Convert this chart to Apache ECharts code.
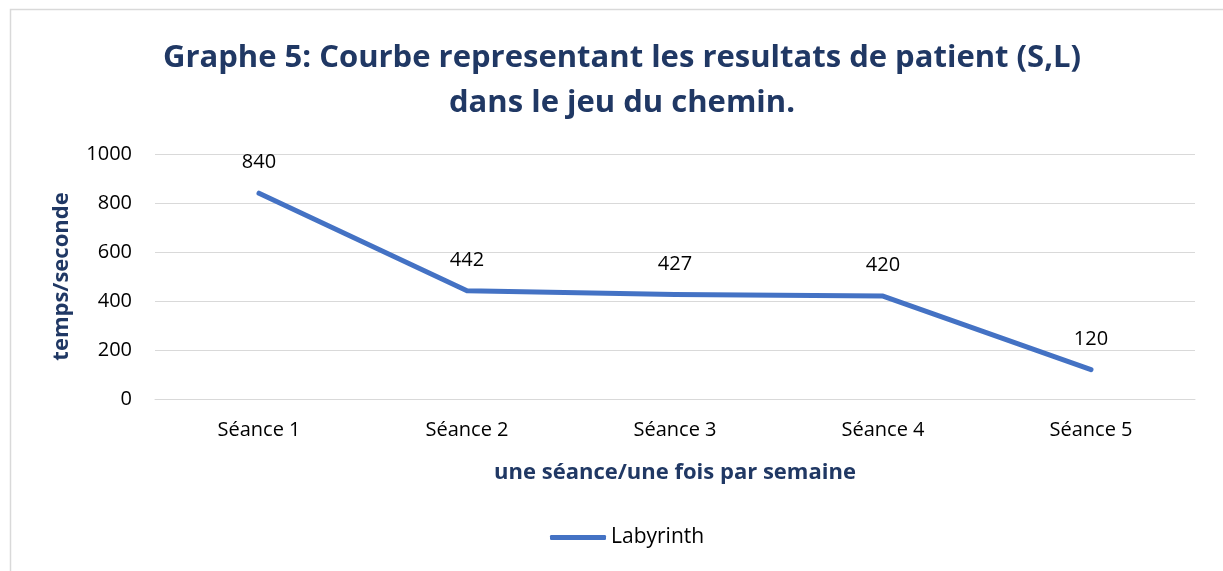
<!DOCTYPE html>
<html>
<head>
<meta charset="utf-8">
<script src="https://cdn.jsdelivr.net/npm/echarts@6/dist/echarts.min.js"></script>
<style>
  html, body { margin: 0; padding: 0; background: #fff; }
  #chart { width: 1223px; height: 571px; }
</style>
</head>
<body>
<div id="chart"></div>
<script>
const categories = ['Séance 1', 'Séance 2', 'Séance 3', 'Séance 4', 'Séance 5'];
const labyrinth = [840, 442, 427, 420, 120];
const yTicks = [0, 200, 400, 600, 800, 1000];

const navy = '#203864';
const blue = '#4472C4';
const font = 'Open Sans';

const chart = echarts.init(document.getElementById('chart'));

chart.setOption({
  backgroundColor: '#fff',
  animation: false,
  textStyle: { fontFamily: font },
  graphic: [{
    type: 'rect',
    shape: { x: 10.5, y: 9.5, width: 1240, height: 600 },
    style: { fill: 'none', stroke: '#d9d9d9', lineWidth: 1.5 },
    silent: true
  }],
  title: {
    text: 'Graphe 5: Courbe representant les resultats de patient (S,L)\ndans le jeu du chemin.',
    left: 617,
    top: 31,
    textAlign: 'center',
    textStyle: {
      fontFamily: font,
      fontSize: 31,
      fontWeight: 'bold',
      color: navy,
      lineHeight: 45
    }
  },
  grid: { left: 155, right: 28, top: 154, bottom: 172 },
  xAxis: {
    type: 'category',
    data: categories,
    boundaryGap: true,
    name: 'une séance/une fois par semaine',
    nameLocation: 'middle',
    nameGap: 63,
    nameTextStyle: { fontFamily: font, fontSize: 22, fontWeight: 'bold', color: navy },
    axisLine: { lineStyle: { color: '#d9d9d9', width: 1 } },
    axisTick: { show: false },
    axisLabel: { color: '#000', fontSize: 20, margin: 21 }
  },
  yAxis: {
    type: 'value',
    min: yTicks[0],
    max: yTicks[yTicks.length - 1],
    interval: 200,
    name: 'temps/seconde',
    nameLocation: 'middle',
    nameGap: 82,
    nameTextStyle: { fontFamily: font, fontSize: 22, fontWeight: 'bold', color: navy },
    axisLine: { show: false },
    axisTick: { show: false },
    axisLabel: { color: '#000', fontSize: 20, margin: 23, formatter: (v) => String(v) },
    splitLine: { lineStyle: { color: '#d9d9d9', width: 1 } }
  },
  legend: {
    data: ['Labyrinth'],
    bottom: 18,
    left: 545,
    itemWidth: 56,
    itemHeight: 5,
    itemGap: 4,
    icon: 'roundRect',
    itemStyle: { color: blue, opacity: 1 },
    textStyle: { color: '#000', fontSize: 21, fontFamily: font }
  },
  series: [{
    name: 'Labyrinth',
    type: 'line',
    data: labyrinth,
    symbol: 'circle',
    symbolSize: 3,
    showSymbol: true,
    lineStyle: { color: blue, width: 5, cap: 'round', join: 'round' },
    itemStyle: { color: blue },
    label: {
      show: true,
      position: 'top',
      distance: 19,
      color: '#000',
      fontSize: 20,
      fontFamily: font
    }
  }]
});
</script>
</body>
</html>
